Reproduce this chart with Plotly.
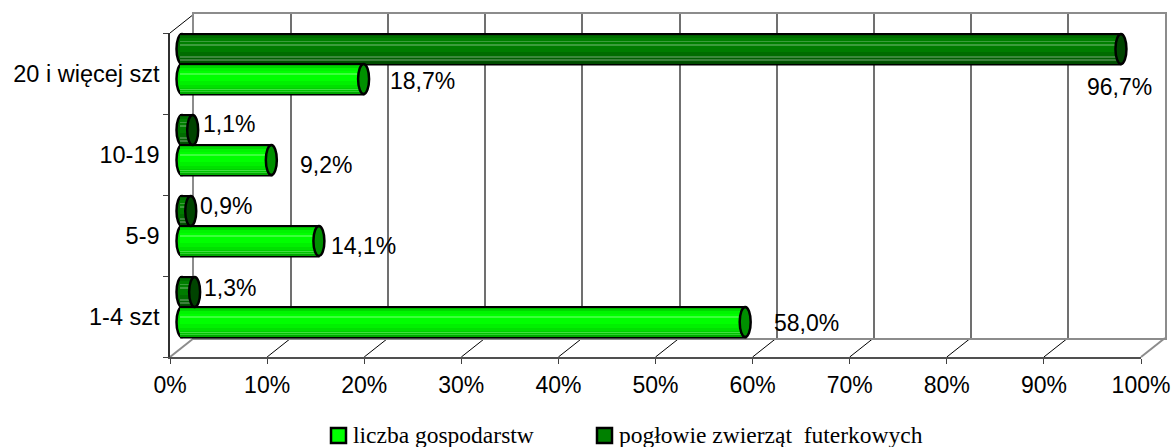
import plotly.graph_objects as go

categories = ["1-4 szt", "5-9", "10-19", "20 i więcej szt"]
gospodarstwa = [58.0, 14.1, 9.2, 18.7]
zwierzeta = [1.3, 0.9, 1.1, 96.7]
labels_g = ["58,0%", "14,1%", "9,2%", "18,7%"]
labels_z = ["1,3%", "0,9%", "1,1%", "96,7%"]
name_g = "liczba gospodarstw"
name_z = "pogłowie zwierząt\u00a0\u00a0futerkowych"
x_ticks = list(range(0, 101, 10))
x_ticktext = [f"{t}%" for t in x_ticks]

# label nudges in pixels, as placed in the reference
shift_g = [(61, -15.5), (45, -19.5), (55, -19.5), (59, -16.5)]
shift_z = [(35, 19.5), (35, 20.5), (36, 21.5), (-1, -22.5)]

W, H = 1176, 447
FL, FR, FT, FB = 170, 1141, 33, 357   # front plane
DX, DY = 24, -19                      # depth offset
PXU = (FR - FL) / 100
BAND = (FB - FT) / 4
BAR_H = 30 / BAND

def px(v): return v / W
def py(v): return 1 - v / H
def rng(a, b): return [a, b]

# gradient rows, top to bottom: (colour, thickness in px)
grad_light = [("#00b400", 1), ("#00d800", 2), ("#00f400", 3), ("#00ff00", 1), ("#3cff3c", 1),
              ("#00ff00", 1), ("#3cff3c", 1), ("#00ff00", 7), ("#00f000", 4), ("#00e000", 3),
              ("#00d000", 2), ("#40e040", 1), ("#00c400", 1), ("#30d030", 1), ("#00a800", 1)]
grad_dark = [("#005a00", 1), ("#006e00", 2), ("#007e00", 3), ("#3c9c3c", 1), ("#008000", 3),
             ("#3c9c3c", 1), ("#007c00", 7), ("#006c00", 5), ("#3c883c", 1), ("#006000", 2),
             ("#3c803c", 1), ("#005400", 2), ("#004c00", 1)]

fig = go.Figure()

# back wall subplot
fig.add_trace(go.Scatter(x=[0], y=[0], mode="markers", marker=dict(opacity=0), showlegend=False,
                         hoverinfo="skip", xaxis="x", yaxis="y"))

def add_series(values, name, colour, grad, low):
    pad = 0.2
    fig.add_trace(go.Bar(y=categories, x=values, orientation="h", base=0, offset=low, width=BAR_H,
                         name=name, marker=dict(color=colour, line=dict(color="black", width=2.5)),
                         xaxis="x2", yaxis="y2", hoverinfo="skip", showlegend=False))
    top = low + BAR_H - 1 / BAND
    for col, th in grad:
        h = th * (28 / 30) / BAND
        fig.add_trace(go.Bar(y=categories, x=[v + pad for v in values], orientation="h", base=-pad,
                             offset=top - h, width=h, marker=dict(color=col, line=dict(width=0)),
                             showlegend=False, xaxis="x2", yaxis="y2", hoverinfo="skip"))
        top -= h

add_series(zwierzeta, name_z, "#008000", grad_dark, 0)
add_series(gospodarstwa, name_g, "#00ff00", grad_light, -BAR_H)

# front plane subplot carrying the axis labels
fig.add_trace(go.Scatter(x=[0] * 4, y=categories, mode="markers", marker=dict(opacity=0), showlegend=False,
                         hoverinfo="skip", xaxis="x3", yaxis="y3"))

shapes = []
def caps(values, low, cap_col, start_col):
    for i, v in enumerate(values):
        for anchor, fill, layer in ((0, start_col, "below"), (v, cap_col, "above")):
            shapes.append(dict(type="circle", xref="x2", yref="y2", xsizemode="pixel", xanchor=anchor,
                               x0=-5.5, x1=5.5, y0=i + low, y1=i + low + BAR_H, fillcolor=fill,
                               line=dict(color="black", width=2.5), layer=layer))
caps(zwierzeta, 0, "#004400", "#006e00")
caps(gospodarstwa, -BAR_H, "#009000", "#00e000")

# floor and wall diagonals
for t in x_ticks:
    x = FL + t * PXU
    edge = t in (0, 100)
    shapes.append(dict(type="line", xref="paper", yref="paper", x0=px(x), x1=px(x + DX), y0=py(FB), y1=py(FB + DY),
                       line=dict(color="#8c8c8c" if edge else "black", width=2 if edge else 1), layer="below"))
shapes.append(dict(type="line", xref="paper", yref="paper", x0=px(FL), x1=px(FL + DX), y0=py(FT), y1=py(FT + DY),
                   line=dict(color="black", width=1), layer="below"))

ann = []
def add_labels(texts, values, shifts):
    for i, (tx, v, s) in enumerate(zip(texts, values, shifts)):
        ann.append(dict(x=v, y=categories[i], xref="x2", yref="y2", text=tx, showarrow=False,
                        xshift=s[0], yshift=s[1], xanchor="center", yanchor="middle",
                        font=dict(family="Liberation Sans", size=23, color="black")))
add_labels(labels_g, gospodarstwa, shift_g)
add_labels(labels_z, zwierzeta, shift_z)

# legend keys
for left, name, colour in ((331, name_g, "#00ff00"), (597, name_z, "#008000")):
    shapes.append(dict(type="rect", xref="paper", yref="paper", x0=px(left), x1=px(left + 15), y0=py(428), y1=py(443),
                       fillcolor=colour, line=dict(color="black", width=2.5), layer="above"))
    ann.append(dict(x=px(left + 20), y=py(435), xref="paper", yref="paper", text=name, showarrow=False,
                    xanchor="left", yanchor="middle", font=dict(family="Liberation Serif", size=23.5, color="black")))

tick_font = dict(family="Liberation Sans", size=23, color="black")
fig.update_layout(
    width=W, height=H, margin=dict(l=0, r=0, t=0, b=0, autoexpand=False), autosize=False,
    paper_bgcolor="white", plot_bgcolor="rgba(0,0,0,0)", barmode="overlay", bargap=0,
    shapes=shapes, annotations=ann, showlegend=False,
    xaxis=dict(domain=[px(FL + DX), px(FR + DX)], range=rng(0, 100), tickvals=x_ticks, showticklabels=False,
               showgrid=True, gridcolor="#707070", gridwidth=1.5, zeroline=False, ticks="",
               showline=True, linecolor="#8c8c8c", linewidth=2, mirror=True, anchor="y"),
    yaxis=dict(domain=[py(FB + DY), py(FT + DY)], range=rng(-0.5, 3.5), showticklabels=False, showgrid=False,
               zeroline=False, ticks="", showline=True, linecolor="#8c8c8c", linewidth=2, mirror=True, anchor="x"),
    xaxis2=dict(domain=[px(FL + DX / 2 - 2 * PXU), px(FR + DX / 2 + PXU)], range=rng(-2, 101), visible=False, anchor="y2"),
    yaxis2=dict(domain=[py(FB + DY / 2), py(FT + DY / 2)], type="category", categoryorder="array",
                categoryarray=categories, range=rng(-0.5, 3.5), visible=False, anchor="x2"),
    xaxis3=dict(domain=[px(FL), px(FR)], range=rng(0, 100), tickvals=x_ticks, ticktext=x_ticktext, tickfont=tick_font,
                ticks="outside", ticklen=5, tickcolor="#404040", tickwidth=1, showgrid=False, zeroline=False,
                showline=True, linecolor="#505050", linewidth=2, anchor="y3", ticklabelstandoff=1),
    yaxis3=dict(domain=[py(FB), py(FT)], type="category", categoryorder="array", categoryarray=categories,
                range=rng(-0.5, 3.5), tickson="boundaries", ticks="outside", ticklen=5, tickcolor="#404040",
                tickwidth=1, tickfont=dict(family="Liberation Sans", size=23.5, color="black"), showgrid=False,
                zeroline=False, showline=True, linecolor="#303030", linewidth=1.5, anchor="x3", ticklabelstandoff=4),
)

fig.write_html("out.html", config=dict(displayModeBar=False, responsive=False),
               post_script="document.body.style.margin='0';document.body.style.overflow='hidden';")
